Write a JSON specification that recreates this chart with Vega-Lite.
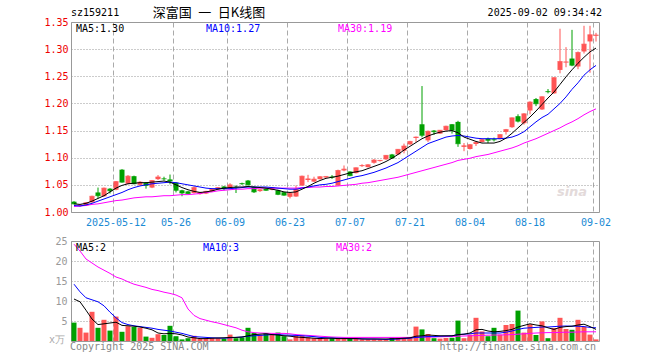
{
"$schema": "https://vega.github.io/schema/vega-lite/v6.json",
"padding": {"left": 43, "top": 6, "right": 5, "bottom": 5},
"background": "white",
"bounds": "flush",
"spacing": 29,
"config": {
  "view": {"stroke": "#999", "strokeWidth": 1},
  "axis": {"ticks": false, "domain": false, "labelFont": "DejaVu Sans Mono", "labelFontSize": 10, "gridColor": "#aaa", "gridWidth": 1, "labelOverlap": false},
  "text": {"font": "DejaVu Sans Mono", "fontSize": 10}
},
"data": {"values": [
{"d":"2025-04-28","o":1.019,"h":1.020,"l":1.014,"c":1.015,"v":4.6,"m5":1.015,"m10":1.012,"m30":1.010,"vm5":10.5,"vm10":14.2,"vm30":24.2},
{"d":"2025-04-29","o":1.011,"h":1.014,"l":1.010,"c":1.013,"v":3.3,"m5":1.014,"m10":1.011,"m30":1.011,"vm5":9.8,"vm10":12.3,"vm30":22.5},
{"d":"2025-04-30","o":1.012,"h":1.018,"l":1.011,"c":1.017,"v":2.1,"m5":1.016,"m10":1.013,"m30":1.012,"vm5":7.7,"vm10":10.8,"vm30":20.5},
{"d":"2025-05-06","o":1.018,"h":1.030,"l":1.017,"c":1.029,"v":7.3,"m5":1.020,"m10":1.016,"m30":1.014,"vm5":5.5,"vm10":10.3,"vm30":19.5},
{"d":"2025-05-07","o":1.036,"h":1.045,"l":1.025,"c":1.030,"v":3.3,"m5":1.025,"m10":1.020,"m30":1.015,"vm5":4.1,"vm10":9.8,"vm30":18.5},
{"d":"2025-05-08","o":1.029,"h":1.045,"l":1.028,"c":1.044,"v":5.3,"m5":1.030,"m10":1.024,"m30":1.017,"vm5":4.3,"vm10":8.8,"vm30":17.7},
{"d":"2025-05-09","o":1.043,"h":1.044,"l":1.034,"c":1.039,"v":2.6,"m5":1.037,"m10":1.028,"m30":1.019,"vm5":4.5,"vm10":7.2,"vm30":16.9},
{"d":"2025-05-12","o":1.041,"h":1.057,"l":1.040,"c":1.056,"v":6.1,"m5":1.044,"m10":1.032,"m30":1.021,"vm5":4.7,"vm10":5.8,"vm30":16.0},
{"d":"2025-05-13","o":1.078,"h":1.079,"l":1.054,"c":1.055,"v":2.3,"m5":1.049,"m10":1.036,"m30":1.022,"vm5":3.9,"vm10":4.6,"vm30":15.5},
{"d":"2025-05-14","o":1.052,"h":1.068,"l":1.051,"c":1.066,"v":3.7,"m5":1.052,"m10":1.041,"m30":1.024,"vm5":3.8,"vm10":4.1,"vm30":14.8},
{"d":"2025-05-15","o":1.066,"h":1.067,"l":1.051,"c":1.052,"v":3.5,"m5":1.053,"m10":1.045,"m30":1.026,"vm5":3.7,"vm10":3.8,"vm30":14.2},
{"d":"2025-05-16","o":1.050,"h":1.057,"l":1.048,"c":1.055,"v":3.3,"m5":1.054,"m10":1.048,"m30":1.027,"vm5":3.5,"vm10":3.6,"vm30":13.8},
{"d":"2025-05-19","o":1.054,"h":1.055,"l":1.043,"c":1.049,"v":1.1,"m5":1.054,"m10":1.050,"m30":1.028,"vm5":3.2,"vm10":3.4,"vm30":13.4},
{"d":"2025-05-20","o":1.045,"h":1.059,"l":1.044,"c":1.058,"v":0.8,"m5":1.055,"m10":1.052,"m30":1.028,"vm5":2.8,"vm10":3.2,"vm30":12.9},
{"d":"2025-05-21","o":1.0605,"h":1.068,"l":1.059,"c":1.0645,"v":1.7,"m5":1.056,"m10":1.053,"m30":1.029,"vm5":2.0,"vm10":2.9,"vm30":12.6},
{"d":"2025-05-22","o":1.0615,"h":1.065,"l":1.058,"c":1.061,"v":1.5,"m5":1.057,"m10":1.054,"m30":1.030,"vm5":1.8,"vm10":2.7,"vm30":12.2},
{"d":"2025-05-23","o":1.060,"h":1.069,"l":1.051,"c":1.057,"v":3.8,"m5":1.055,"m10":1.055,"m30":1.030,"vm5":1.9,"vm10":2.5,"vm30":11.9},
{"d":"2025-05-26","o":1.054,"h":1.055,"l":1.036,"c":1.040,"v":1.2,"m5":1.050,"m10":1.054,"m30":1.031,"vm5":1.8,"vm10":2.2,"vm30":11.5},
{"d":"2025-05-27","o":1.040,"h":1.041,"l":1.029,"c":1.035,"v":0.4,"m5":1.045,"m10":1.052,"m30":1.032,"vm5":1.5,"vm10":1.9,"vm30":10.8},
{"d":"2025-05-28","o":1.038,"h":1.039,"l":1.033,"c":1.034,"v":0.7,"m5":1.041,"m10":1.050,"m30":1.032,"vm5":1.0,"vm10":1.5,"vm30":8.0},
{"d":"2025-05-29","o":1.035,"h":1.047,"l":1.034,"c":1.045,"v":1.3,"m5":1.038,"m10":1.048,"m30":1.033,"vm5":0.8,"vm10":1.1,"vm30":6.4},
{"d":"2025-05-30","o":1.033,"h":1.037,"l":1.032,"c":1.036,"v":0.5,"m5":1.036,"m10":1.046,"m30":1.034,"vm5":0.6,"vm10":1.0,"vm30":5.6},
{"d":"2025-06-03","o":1.034,"h":1.039,"l":1.033,"c":1.038,"v":0.6,"m5":1.037,"m10":1.044,"m30":1.036,"vm5":0.6,"vm10":0.9,"vm30":5.2},
{"d":"2025-06-04","o":1.038,"h":1.043,"l":1.037,"c":1.042,"v":0.75,"m5":1.039,"m10":1.043,"m30":1.037,"vm5":0.7,"vm10":0.8,"vm30":4.8},
{"d":"2025-06-05","o":1.042,"h":1.046,"l":1.041,"c":1.045,"v":0.7,"m5":1.042,"m10":1.043,"m30":1.039,"vm5":0.75,"vm10":0.75,"vm30":4.5},
{"d":"2025-06-06","o":1.047,"h":1.048,"l":1.040,"c":1.043,"v":0.6,"m5":1.044,"m10":1.043,"m30":1.040,"vm5":0.8,"vm10":0.7,"vm30":4.1},
{"d":"2025-06-09","o":1.044,"h":1.053,"l":1.043,"c":1.050,"v":1.6,"m5":1.045,"m10":1.043,"m30":1.041,"vm5":0.9,"vm10":0.8,"vm30":3.7},
{"d":"2025-06-10","o":1.046,"h":1.049,"l":1.035,"c":1.0455,"v":0.7,"m5":1.046,"m10":1.044,"m30":1.042,"vm5":0.9,"vm10":0.9,"vm30":3.3},
{"d":"2025-06-11","o":1.053,"h":1.054,"l":1.050,"c":1.052,"v":0.9,"m5":1.046,"m10":1.045,"m30":1.042,"vm5":1.0,"vm10":1.0,"vm30":2.7},
{"d":"2025-06-12","o":1.058,"h":1.059,"l":1.049,"c":1.050,"v":3.3,"m5":1.047,"m10":1.046,"m30":1.043,"vm5":1.3,"vm10":1.2,"vm30":2.3},
{"d":"2025-06-13","o":1.046,"h":1.047,"l":1.035,"c":1.037,"v":2.0,"m5":1.046,"m10":1.046,"m30":1.043,"vm5":1.6,"vm10":1.3,"vm30":2.1},
{"d":"2025-06-16","o":1.0385,"h":1.042,"l":1.037,"c":1.041,"v":1.5,"m5":1.045,"m10":1.046,"m30":1.044,"vm5":1.7,"vm10":1.4,"vm30":2.0},
{"d":"2025-06-17","o":1.043,"h":1.044,"l":1.039,"c":1.040,"v":2.0,"m5":1.044,"m10":1.046,"m30":1.044,"vm5":1.8,"vm10":1.5,"vm30":1.95},
{"d":"2025-06-18","o":1.041,"h":1.046,"l":1.040,"c":1.045,"v":1.6,"m5":1.042,"m10":1.045,"m30":1.044,"vm5":1.6,"vm10":1.6,"vm30":1.9},
{"d":"2025-06-19","o":1.040,"h":1.041,"l":1.031,"c":1.0325,"v":2.1,"m5":1.040,"m10":1.044,"m30":1.044,"vm5":1.5,"vm10":1.6,"vm30":1.9},
{"d":"2025-06-20","o":1.0365,"h":1.037,"l":1.030,"c":1.031,"v":1.2,"m5":1.037,"m10":1.043,"m30":1.044,"vm5":1.3,"vm10":1.5,"vm30":1.9},
{"d":"2025-06-23","o":1.028,"h":1.035,"l":1.025,"c":1.0345,"v":0.4,"m5":1.036,"m10":1.042,"m30":1.044,"vm5":1.2,"vm10":1.45,"vm30":1.8},
{"d":"2025-06-24","o":1.0285,"h":1.0488,"l":1.028,"c":1.042,"v":1.3,"m5":1.037,"m10":1.042,"m30":1.044,"vm5":1.0,"vm10":1.4,"vm30":1.6},
{"d":"2025-06-25","o":1.0488,"h":1.067,"l":1.048,"c":1.066,"v":1.4,"m5":1.042,"m10":1.044,"m30":1.045,"vm5":0.9,"vm10":1.3,"vm30":1.5},
{"d":"2025-06-26","o":1.059,"h":1.0685,"l":1.055,"c":1.061,"v":0.9,"m5":1.047,"m10":1.046,"m30":1.045,"vm5":0.8,"vm10":1.2,"vm30":1.4},
{"d":"2025-06-27","o":1.056,"h":1.065,"l":1.055,"c":1.0605,"v":0.7,"m5":1.053,"m10":1.048,"m30":1.046,"vm5":0.7,"vm10":1.1,"vm30":1.3},
{"d":"2025-06-30","o":1.0605,"h":1.066,"l":1.060,"c":1.065,"v":0.8,"m5":1.058,"m10":1.050,"m30":1.046,"vm5":0.6,"vm10":0.9,"vm30":1.2},
{"d":"2025-07-01","o":1.0635,"h":1.066,"l":1.063,"c":1.0655,"v":0.7,"m5":1.062,"m10":1.051,"m30":1.047,"vm5":0.7,"vm10":0.8,"vm30":1.1},
{"d":"2025-07-02","o":1.065,"h":1.068,"l":1.061,"c":1.064,"v":0.7,"m5":1.064,"m10":1.053,"m30":1.047,"vm5":0.7,"vm10":0.75,"vm30":1.0},
{"d":"2025-07-03","o":1.049,"h":1.078,"l":1.048,"c":1.0765,"v":0.75,"m5":1.066,"m10":1.056,"m30":1.048,"vm5":0.6,"vm10":0.7,"vm30":0.95},
{"d":"2025-07-04","o":1.0765,"h":1.0857,"l":1.075,"c":1.079,"v":0.6,"m5":1.069,"m10":1.059,"m30":1.049,"vm5":0.6,"vm10":0.65,"vm30":0.9},
{"d":"2025-07-07","o":1.0746,"h":1.075,"l":1.066,"c":1.067,"v":0.7,"m5":1.072,"m10":1.062,"m30":1.050,"vm5":0.6,"vm10":0.6,"vm30":0.9},
{"d":"2025-07-08","o":1.0716,"h":1.082,"l":1.071,"c":1.0815,"v":0.5,"m5":1.074,"m10":1.065,"m30":1.051,"vm5":0.6,"vm10":0.6,"vm30":0.9},
{"d":"2025-07-09","o":1.0845,"h":1.088,"l":1.083,"c":1.0857,"v":0.4,"m5":1.076,"m10":1.067,"m30":1.053,"vm5":0.5,"vm10":0.55,"vm30":0.9},
{"d":"2025-07-10","o":1.0827,"h":1.088,"l":1.082,"c":1.087,"v":0.4,"m5":1.080,"m10":1.070,"m30":1.054,"vm5":0.5,"vm10":0.5,"vm30":0.9},
{"d":"2025-07-11","o":1.0907,"h":1.0975,"l":1.089,"c":1.0957,"v":0.4,"m5":1.084,"m10":1.073,"m30":1.056,"vm5":0.5,"vm10":0.5,"vm30":0.9},
{"d":"2025-07-14","o":1.0938,"h":1.096,"l":1.093,"c":1.095,"v":0.35,"m5":1.088,"m10":1.077,"m30":1.058,"vm5":0.5,"vm10":0.45,"vm30":0.9},
{"d":"2025-07-15","o":1.097,"h":1.105,"l":1.096,"c":1.1043,"v":0.4,"m5":1.093,"m10":1.081,"m30":1.060,"vm5":0.5,"vm10":0.4,"vm30":0.9},
{"d":"2025-07-16","o":1.106,"h":1.107,"l":1.099,"c":1.0994,"v":0.8,"m5":1.099,"m10":1.086,"m30":1.062,"vm5":0.55,"vm10":0.45,"vm30":0.9},
{"d":"2025-07-17","o":1.106,"h":1.116,"l":1.105,"c":1.1154,"v":0.8,"m5":1.106,"m10":1.091,"m30":1.064,"vm5":0.6,"vm10":0.5,"vm30":0.9},
{"d":"2025-07-18","o":1.1129,"h":1.126,"l":1.108,"c":1.1215,"v":0.75,"m5":1.114,"m10":1.098,"m30":1.067,"vm5":0.7,"vm10":0.6,"vm30":0.9},
{"d":"2025-07-21","o":1.1246,"h":1.131,"l":1.124,"c":1.130,"v":0.75,"m5":1.121,"m10":1.105,"m30":1.070,"vm5":0.8,"vm10":0.7,"vm30":0.9},
{"d":"2025-07-22","o":1.1363,"h":1.139,"l":1.129,"c":1.138,"v":3.6,"m5":1.128,"m10":1.112,"m30":1.073,"vm5":1.2,"vm10":0.9,"vm30":0.95},
{"d":"2025-07-23","o":1.1616,"h":1.232,"l":1.1376,"c":1.1413,"v":2.9,"m5":1.135,"m10":1.119,"m30":1.076,"vm5":1.3,"vm10":1.0,"vm30":1.0},
{"d":"2025-07-24","o":1.132,"h":1.150,"l":1.129,"c":1.1487,"v":1.75,"m5":1.140,"m10":1.126,"m30":1.079,"vm5":1.5,"vm10":1.1,"vm30":1.0},
{"d":"2025-07-25","o":1.150,"h":1.151,"l":1.142,"c":1.148,"v":0.7,"m5":1.144,"m10":1.130,"m30":1.082,"vm5":1.4,"vm10":1.1,"vm30":1.0},
{"d":"2025-07-28","o":1.1444,"h":1.151,"l":1.144,"c":1.1506,"v":0.6,"m5":1.147,"m10":1.134,"m30":1.085,"vm5":1.3,"vm10":1.2,"vm30":1.05},
{"d":"2025-07-29","o":1.1506,"h":1.159,"l":1.150,"c":1.158,"v":0.75,"m5":1.149,"m10":1.138,"m30":1.088,"vm5":1.3,"vm10":1.25,"vm30":1.1},
{"d":"2025-07-30","o":1.1617,"h":1.162,"l":1.1444,"c":1.1506,"v":0.8,"m5":1.150,"m10":1.140,"m30":1.091,"vm5":1.3,"vm10":1.3,"vm30":1.1},
{"d":"2025-07-31","o":1.166,"h":1.168,"l":1.120,"c":1.1258,"v":5.1,"m5":1.146,"m10":1.141,"m30":1.095,"vm5":1.6,"vm10":1.6,"vm30":1.2},
{"d":"2025-08-01","o":1.120,"h":1.127,"l":1.112,"c":1.122,"v":0.7,"m5":1.138,"m10":1.140,"m30":1.097,"vm5":1.7,"vm10":1.7,"vm30":1.25},
{"d":"2025-08-04","o":1.116,"h":1.125,"l":1.115,"c":1.124,"v":1.6,"m5":1.134,"m10":1.138,"m30":1.099,"vm5":2.0,"vm10":1.8,"vm30":1.3},
{"d":"2025-08-05","o":1.1253,"h":1.130,"l":1.1216,"c":1.1284,"v":5.8,"m5":1.130,"m10":1.136,"m30":1.102,"vm5":2.8,"vm10":2.0,"vm30":1.35},
{"d":"2025-08-06","o":1.129,"h":1.134,"l":1.128,"c":1.1333,"v":2.4,"m5":1.127,"m10":1.135,"m30":1.104,"vm5":2.9,"vm10":2.0,"vm30":1.4},
{"d":"2025-08-07","o":1.1352,"h":1.137,"l":1.127,"c":1.1321,"v":1.2,"m5":1.127,"m10":1.135,"m30":1.106,"vm5":2.5,"vm10":2.0,"vm30":1.45},
{"d":"2025-08-08","o":1.1338,"h":1.137,"l":1.130,"c":1.133,"v":3.3,"m5":1.127,"m10":1.135,"m30":1.109,"vm5":2.3,"vm10":2.0,"vm30":1.5},
{"d":"2025-08-11","o":1.1346,"h":1.143,"l":1.134,"c":1.1426,"v":1.6,"m5":1.130,"m10":1.135,"m30":1.112,"vm5":2.4,"vm10":2.0,"vm30":1.5},
{"d":"2025-08-12","o":1.1475,"h":1.153,"l":1.1426,"c":1.1518,"v":4.0,"m5":1.136,"m10":1.136,"m30":1.115,"vm5":2.6,"vm10":2.2,"vm30":1.55},
{"d":"2025-08-13","o":1.1562,"h":1.174,"l":1.155,"c":1.1735,"v":4.25,"m5":1.145,"m10":1.138,"m30":1.118,"vm5":2.9,"vm10":2.5,"vm30":1.6},
{"d":"2025-08-14","o":1.1765,"h":1.180,"l":1.165,"c":1.1673,"v":7.6,"m5":1.155,"m10":1.142,"m30":1.122,"vm5":3.5,"vm10":2.9,"vm30":1.7},
{"d":"2025-08-15","o":1.1636,"h":1.182,"l":1.161,"c":1.1809,"v":2.1,"m5":1.165,"m10":1.148,"m30":1.127,"vm5":3.9,"vm10":3.2,"vm30":1.8},
{"d":"2025-08-18","o":1.187,"h":1.204,"l":1.180,"c":1.2025,"v":4.2,"m5":1.175,"m10":1.157,"m30":1.131,"vm5":4.3,"vm10":3.3,"vm30":1.9},
{"d":"2025-08-19","o":1.208,"h":1.210,"l":1.195,"c":1.1994,"v":1.5,"m5":1.186,"m10":1.166,"m30":1.135,"vm5":4.0,"vm10":3.4,"vm30":2.0},
{"d":"2025-08-20","o":1.1889,"h":1.213,"l":1.188,"c":1.2123,"v":4.9,"m5":1.198,"m10":1.174,"m30":1.140,"vm5":3.8,"vm10":3.5,"vm30":2.05},
{"d":"2025-08-21","o":1.2225,"h":1.2265,"l":1.2185,"c":1.2216,"v":0.7,"m5":1.210,"m10":1.180,"m30":1.145,"vm5":3.3,"vm10":3.5,"vm30":2.1},
{"d":"2025-08-22","o":1.2185,"h":1.248,"l":1.218,"c":1.2475,"v":3.25,"m5":1.221,"m10":1.190,"m30":1.150,"vm5":2.9,"vm10":3.6,"vm30":2.1},
{"d":"2025-08-25","o":1.2617,"h":1.3376,"l":1.2555,"c":1.2772,"v":5.8,"m5":1.235,"m10":1.200,"m30":1.155,"vm5":3.4,"vm10":3.7,"vm30":2.15},
{"d":"2025-08-26","o":1.2755,"h":1.3037,"l":1.2667,"c":1.2765,"v":3.0,"m5":1.249,"m10":1.212,"m30":1.161,"vm5":3.6,"vm10":3.75,"vm30":2.2},
{"d":"2025-08-27","o":1.2827,"h":1.3355,"l":1.2685,"c":1.2704,"v":2.8,"m5":1.262,"m10":1.226,"m30":1.166,"vm5":3.7,"vm10":3.7,"vm30":2.2},
{"d":"2025-08-28","o":1.268,"h":1.2957,"l":1.263,"c":1.2938,"v":5.3,"m5":1.274,"m10":1.238,"m30":1.172,"vm5":4.0,"vm10":3.7,"vm30":2.25},
{"d":"2025-08-29","o":1.2957,"h":1.343,"l":1.292,"c":1.3093,"v":3.5,"m5":1.285,"m10":1.252,"m30":1.179,"vm5":4.2,"vm10":3.6,"vm30":2.3},
{"d":"2025-09-01","o":1.3142,"h":1.343,"l":1.2565,"c":1.3265,"v":1.6,"m5":1.295,"m10":1.262,"m30":1.185,"vm5":3.6,"vm10":3.4,"vm30":2.3},
{"d":"2025-09-02","o":1.3247,"h":1.3300,"l":1.3140,"c":1.326,"v":0.4,"m5":1.302,"m10":1.270,"m30":1.190,"vm5":2.9,"vm10":3.3,"vm30":2.3}
]},
"vconcat": [
{
  "width": 528, "height": 190,
  "encoding": {"x": {"field": "d", "type": "ordinal", "title": null,
    "scale": {"type": "band", "paddingInner": 0, "paddingOuter": 0},
    "axis": {"values": ["2025-05-12","2025-05-26","2025-06-09","2025-06-23","2025-07-07","2025-07-21","2025-08-04","2025-08-18","2025-09-02"],
      "labelExpr": "datum.value == '2025-05-12' ? datum.value : slice(datum.value, 5)",
      "bandPosition": 0, "grid": true, "gridDash": [5, 3], "gridColor": "#aaa",
      "labelColor": "#1a8ad4", "labelAngle": 0, "labelPadding": 5, "labelFlush": false, "labelOverlap": false, "title": null}}},
  "layer": [
    {"mark": {"type": "rule", "strokeWidth": 1},
     "encoding": {
       "y": {"field": "l", "type": "quantitative", "title": null,
         "scale": {"domain": [1.0, 1.35], "nice": false, "zero": false},
         "axis": {"values": [1.0, 1.05, 1.1, 1.15, 1.2, 1.25, 1.3, 1.35], "tickCount": 20, "format": ".2f", "labelColor": "#ee0000",
           "grid": true, "gridDash": [1, 2], "gridColor": "#999", "labelPadding": 3, "labelOverlap": false, "labelFlush": false, "labelBound": false, "title": null}},
       "y2": {"field": "h"},
       "color": {"condition": {"test": "datum.c >= datum.o", "value": "#ff5555"}, "value": "#00a000"}}},
    {"mark": {"type": "bar", "width": 5},
     "encoding": {
       "y": {"field": "o", "type": "quantitative", "title": null},
       "y2": {"field": "c"},
       "color": {"condition": {"test": "datum.c >= datum.o", "value": "#ff5555"}, "value": "#00a000"}}},
    {"mark": {"type": "tick", "thickness": 1, "size": 5},
     "encoding": {
       "y": {"field": "c", "type": "quantitative", "title": null},
       "color": {"condition": {"test": "datum.c >= datum.o", "value": "#ff5555"}, "value": "#00a000"}}},
    {"mark": {"type": "line", "strokeWidth": 1, "color": "#ff00ff"},
     "encoding": {"y": {"field": "m30", "type": "quantitative", "title": null}}},
    {"mark": {"type": "line", "strokeWidth": 1, "color": "#0000ff"},
     "encoding": {"y": {"field": "m10", "type": "quantitative", "title": null}}},
    {"mark": {"type": "line", "strokeWidth": 1, "color": "#000000"},
     "encoding": {"y": {"field": "m5", "type": "quantitative", "title": null}}},
    {"data": {"values": [{}]},
     "mark": {"type": "text", "align": "left", "baseline": "middle", "dx": -3, "dy": -9, "color": "#000"},
     "encoding": {"x": {"datum": "2025-04-28", "type": "ordinal"}, "y": {"datum": 1.35, "type": "quantitative"}, "text": {"value": "sz159211"}}},
    {"data": {"values": [{}]},
     "mark": {"type": "text", "align": "center", "baseline": "middle", "dx": -3, "dy": -9, "color": "#000", "font": "Noto Sans CJK SC", "fontSize": 13},
     "encoding": {"x": {"datum": "2025-06-04", "type": "ordinal"}, "y": {"datum": 1.35, "type": "quantitative"}, "text": {"value": "深富国\u2002一\u2002日K线图"}}},
    {"data": {"values": [{}]},
     "mark": {"type": "text", "align": "right", "baseline": "middle", "dx": 6, "dy": -9, "color": "#000"},
     "encoding": {"x": {"datum": "2025-09-02", "type": "ordinal"}, "y": {"datum": 1.35, "type": "quantitative"}, "text": {"value": "2025-09-02 09:34:42"}}},
    {"data": {"values": [{}]},
     "mark": {"type": "text", "align": "left", "baseline": "middle", "dx": 2, "dy": 7, "color": "#000"},
     "encoding": {"x": {"datum": "2025-04-28", "type": "ordinal"}, "y": {"datum": 1.35, "type": "quantitative"}, "text": {"value": "MA5:1.30"}}},
    {"data": {"values": [{}]},
     "mark": {"type": "text", "align": "left", "baseline": "middle", "dx": 0, "dy": 7, "color": "#0000ff"},
     "encoding": {"x": {"datum": "2025-06-03", "type": "ordinal"}, "y": {"datum": 1.35, "type": "quantitative"}, "text": {"value": "MA10:1.27"}}},
    {"data": {"values": [{}]},
     "mark": {"type": "text", "align": "left", "baseline": "middle", "dx": 0, "dy": 7, "color": "#ff00ff"},
     "encoding": {"x": {"datum": "2025-07-03", "type": "ordinal"}, "y": {"datum": 1.35, "type": "quantitative"}, "text": {"value": "MA30:1.19"}}},
    {"data": {"values": [{}]},
     "mark": {"type": "text", "align": "center", "baseline": "middle", "color": "#e3dada", "font": "DejaVu Sans", "fontSize": 13, "fontWeight": "bold", "fontStyle": "italic"},
     "encoding": {"x": {"datum": "2025-08-27", "type": "ordinal"}, "y": {"datum": 1.036, "type": "quantitative"}, "text": {"value": "sina"}}}
  ]
},
{
  "width": 528, "height": 100,
  "encoding": {"x": {"field": "d", "type": "ordinal", "title": null,
    "scale": {"type": "band", "paddingInner": 0, "paddingOuter": 0},
    "axis": {"values": ["2025-05-12","2025-05-26","2025-06-09","2025-06-23","2025-07-07","2025-07-21","2025-08-04","2025-08-18","2025-09-02"],
      "bandPosition": 0, "grid": true, "gridDash": [5, 3], "gridColor": "#aaa", "labels": false, "title": null}}},
  "layer": [
    {"mark": {"type": "bar", "width": 5},
     "encoding": {
       "y": {"field": "v", "type": "quantitative", "title": null,
         "scale": {"domain": [0, 25], "nice": false},
         "axis": {"values": [5, 10, 15, 20, 25], "tickCount": 20, "labelColor": "#999", "grid": true, "gridDash": [1, 2], "gridColor": "#999", "labelPadding": 4, "labelOverlap": false, "labelFlush": false, "labelBound": false, "title": null}},
       "color": {"condition": {"test": "datum.c >= datum.o", "value": "#ff5555"}, "value": "#00a000"}}},
    {"mark": {"type": "line", "strokeWidth": 1, "color": "#ff00ff"},
     "encoding": {"y": {"field": "vm30", "type": "quantitative", "title": null}}},
    {"mark": {"type": "line", "strokeWidth": 1, "color": "#0000ff"},
     "encoding": {"y": {"field": "vm10", "type": "quantitative", "title": null}}},
    {"mark": {"type": "line", "strokeWidth": 1, "color": "#000000"},
     "encoding": {"y": {"field": "vm5", "type": "quantitative", "title": null}}},
    {"data": {"values": [{}]},
     "mark": {"type": "text", "align": "left", "baseline": "middle", "dx": 2, "dy": 7, "color": "#000"},
     "encoding": {"x": {"datum": "2025-04-28", "type": "ordinal"}, "y": {"datum": 25, "type": "quantitative"}, "text": {"value": "MA5:2"}}},
    {"data": {"values": [{}]},
     "mark": {"type": "text", "align": "left", "baseline": "middle", "dx": -3, "dy": 7, "color": "#0000ff"},
     "encoding": {"x": {"datum": "2025-06-03", "type": "ordinal"}, "y": {"datum": 25, "type": "quantitative"}, "text": {"value": "MA10:3"}}},
    {"data": {"values": [{}]},
     "mark": {"type": "text", "align": "left", "baseline": "middle", "dx": -2, "dy": 7, "color": "#ff00ff"},
     "encoding": {"x": {"datum": "2025-07-03", "type": "ordinal"}, "y": {"datum": 25, "type": "quantitative"}, "text": {"value": "MA30:2"}}},
    {"data": {"values": [{}]},
     "mark": {"type": "text", "align": "right", "baseline": "middle", "dx": -9, "dy": -1, "color": "#aaa"},
     "encoding": {"x": {"datum": "2025-04-28", "type": "ordinal"}, "y": {"datum": 0, "type": "quantitative"}, "text": {"value": "x万"}}},
    {"data": {"values": [{}]},
     "mark": {"type": "text", "align": "left", "baseline": "middle", "dx": -4, "dy": 6, "color": "#888"},
     "encoding": {"x": {"datum": "2025-04-28", "type": "ordinal"}, "y": {"datum": 0, "type": "quantitative"}, "text": {"value": "Copyright 2025 SINA.COM"}}},
    {"data": {"values": [{}]},
     "mark": {"type": "text", "align": "right", "baseline": "middle", "dx": 0, "dy": 6, "color": "#888"},
     "encoding": {"x": {"datum": "2025-09-02", "type": "ordinal"}, "y": {"datum": 0, "type": "quantitative"}, "text": {"value": "http://finance.sina.com.cn"}}}
  ]
}
]
}
